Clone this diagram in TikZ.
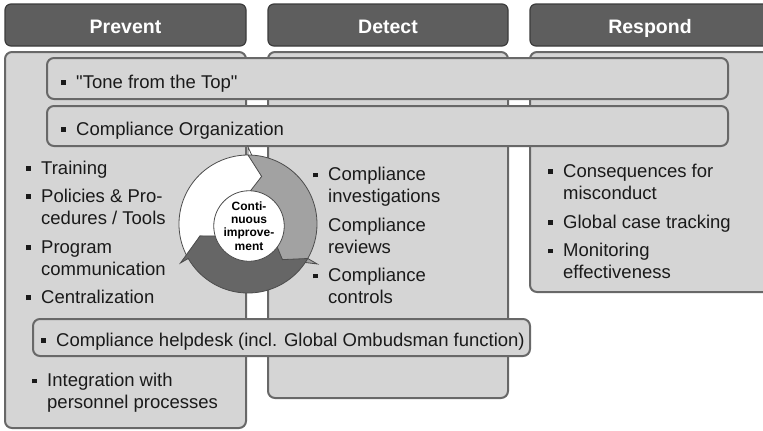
\documentclass[tikz,border=0pt]{standalone}
\usepackage{fontspec}
\setmainfont{Liberation Sans}
\newfontfamily\qfont{Liberation Sans}
\definecolor{hdr}{HTML}{5E5E5E}
\definecolor{hdredge}{HTML}{3C3C3C}
\definecolor{bodyfill}{HTML}{D5D5D5}
\definecolor{edge}{HTML}{686868}
\definecolor{lgray}{HTML}{A2A2A2}
\definecolor{dgray}{HTML}{666666}
\definecolor{txt}{HTML}{1A1A1A}
\newcommand{\bul}{\makebox[15pt][l]{\rule[3.4pt]{4.8pt}{4.8pt}}}
\newcommand{\ind}{\hspace*{15pt}}
\newcommand{\sq}{{\qfont"}}
\begin{document}
\begin{tikzpicture}[x=1pt,y=-1pt,
  header/.style={draw=hdredge, line width=1.2pt, fill=hdr, rounded corners=6pt},
  panel/.style={draw=edge, line width=2pt, fill=bodyfill, rounded corners=7pt},
  band/.style={draw=edge, line width=2pt, fill=bodyfill, rounded corners=7pt},
  htext/.style={text=white, font=\fontsize{19.5}{22}\selectfont\bfseries, inner sep=0pt, anchor=base},
  item/.style={text=txt, font=\fontsize{18.5}{21.7}\selectfont, inner sep=0pt, anchor=north west, align=left},
  cyc/.style={draw=black!70, line width=0.8pt, line join=miter},
  hubstyle/.style={circle, draw=black!70, line width=0.8pt, fill=white, minimum size=61pt, inner sep=0pt,
     align=center, text=black, font=\fontsize{12}{13.4}\selectfont\bfseries}]
\useasboundingbox (0,0) rectangle (763,431);
\fill[white] (0,0) rectangle (763,431);
% headers
\path[header] (5,4) rectangle (246,46);
\path[header] (268,4) rectangle (508,46);
\path[header] (530,4) rectangle (775,46);
% column panels
\path[panel] (5,52) rectangle (246,428);
\path[panel] (268,52) rectangle (508,398);
\path[panel] (530,52) rectangle (775,292);
% bands
\path[band] (47,58) rectangle (728,99);
\path[band] (47,106) rectangle (728,146);
% cycle
\begin{scope}[shift={(248,224)}, x=1pt, y=1pt]
  \draw[cyc, fill=white] (210:69) arc[start angle=210, end angle=90, radius=69]
     -- (90:77) -- (74:49.5) -- (90:24) -- (90:30)
     arc[start angle=90, end angle=210, radius=30] -- (194:49.5) -- cycle;
  \draw[cyc, fill=lgray] (90:69) arc[start angle=90, end angle=-30, radius=69]
     -- (-30:80) -- (-46:49.5) -- (-30:24) -- (-30:30)
     arc[start angle=-30, end angle=90, radius=30] -- (74:49.5) -- cycle;
  \draw[cyc, fill=dgray] (-30:69) arc[start angle=-30, end angle=-150, radius=69]
     -- (-150:78) -- (-166:49.5) -- (-150:24) -- (-150:30)
     arc[start angle=-150, end angle=-30, radius=30] -- (-46:49.5) -- cycle;
  \node[hubstyle] (hub) at (1,-2) {Conti-\\nuous\\improve-\\ment};
\end{scope}
% helpdesk band
\path[band] (33,319) rectangle (530,356);
% header texts
\node[htext] (hprev) at (125.5,34) {Prevent};
\node[htext] (hdet) at (388,34) {Detect};
\node[htext] (hresp) at (650,34) {Respond};
% bands text
\node[item] (tone) at (61,73.1) {\strut\bul \sq Tone from the Top\sq};
\node[item] (org) at (61,119.8) {\strut\bul Compliance Organization};
\node[item] (help) at (41,330.8) {\strut\bul Compliance helpdesk (incl. Global Ombudsman function)};
% prevent
\node[item] (p1) at (26,158.8) {\strut\bul Training};
\node[item] (p2) at (26,187.1) {\strut\bul Policies \& Pro-\\\ind cedures / Tools};
\node[item] (p3) at (26,238.1) {\strut\bul Program\\\ind communication};
\node[item] (p4) at (26,288.1) {\strut\bul Centralization};
\node[item] (p5) at (32,371.5) {\strut\bul Integration with\\\ind personnel processes};
% detect
\node[item] (d1) at (313,165.5) {\strut\bul Compliance\\\ind investigations};
\node[item] (d2) at (313,216.5) {\strut\ind Compliance\\\ind reviews};
\node[item] (d3) at (313,266.5) {\strut\bul Compliance\\\ind controls};
% respond
\node[item] (r1) at (548,162.1) {\strut\bul Consequences for\\\ind misconduct};
\node[item] (r2) at (548,213.1) {\strut\bul Global case tracking};
\node[item] (r3) at (548,241.5) {\strut\bul Monitoring\\\ind effectiveness};
\end{tikzpicture}
\end{document}
